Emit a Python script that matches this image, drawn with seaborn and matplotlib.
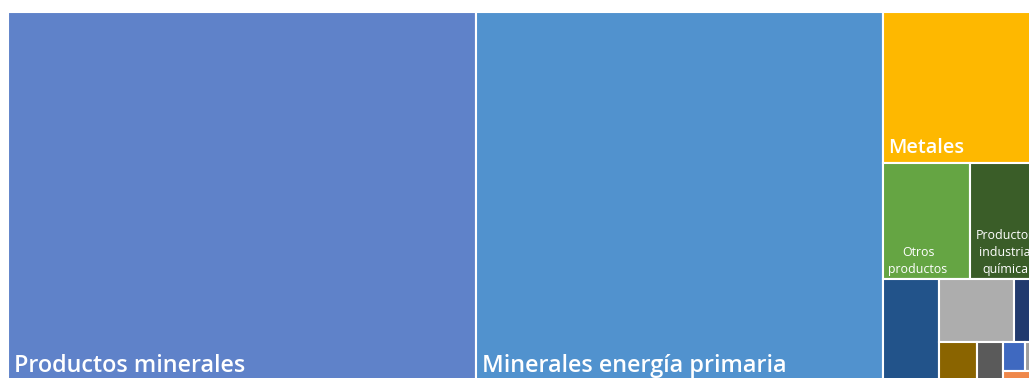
import matplotlib
matplotlib.use("Agg")
import matplotlib.pyplot as plt
import seaborn as sns

# Export groups and their values (same units for every block)
categorias = [
    "Productos minerales",
    "Minerales energía primaria",
    "Metales",
    "Otros productos",
    "Productos industria química",
    "Productos agropecuarios",
    "Alimentos",
    "Productos forestales",
    "Industria básica",
    "Celulosa y papel",
    "Maquinaria",
    "Plásticos",
    "Textiles",
]
valores = [1755, 1526, 266, 101, 103, 60.5, 47.3, 28.3, 17.1, 11.7, 6.4, 9.9, 9.0]

colores = [
    "#5F82C9", "#5192CE", "#FEB800", "#65A543", "#3A5D28",
    "#22538A", "#ADADAD", "#213A6E", "#8A6400", "#5A5A5A",
    "#3F69C0", "#9E9E9E", "#EF884B",
]

# Nesting of the blocks: nested lists alternate between side-by-side and stacked
estructura = [0, 1, [2, [3, 4], [5, [[6, 7], [8, 9, [[10, 11], 12]]]]]]

# Label text, size (pt) and weight for the blocks that carry a name
etiquetas = {
    0: ("Productos minerales", 16.8, "semibold"),
    1: ("Minerales energía primaria", 16.8, "semibold"),
    2: ("Metales", 14.3, "semibold"),
    3: ("Otros\nproductos", 8.9, "medium"),
    4: ("Productos\nindustria\nquímica", 8.9, "medium"),
}

sns.set_theme(style="white")
plt.rcParams["font.family"] = ["Open Sans", "DejaVu Sans"]

W_PX, H_PX = 1029, 378
fig = plt.figure(figsize=(W_PX / 100, H_PX / 100), dpi=100)
ax = fig.add_axes([0, 0, 1, 1])
ax.set_xlim(0, W_PX)
ax.set_ylim(H_PX, 0)
ax.set_axis_off()

# Treemap area in axis units
X0, Y0, ANCHO, ALTO = 8, 12, 1051, 375


def suma(nodo):
    if isinstance(nodo, int):
        return valores[nodo]
    return sum(suma(n) for n in nodo)


rects = {}


def dividir(nodo, x, y, w, h, horizontal):
    if isinstance(nodo, int):
        rects[nodo] = (x, y, w, h)
        return
    total = suma(nodo)
    for hijo in nodo:
        f = suma(hijo) / total
        if horizontal:
            dividir(hijo, x, y, w * f, h, not horizontal)
            x += w * f
        else:
            dividir(hijo, x, y, w, h * f, not horizontal)
            y += h * f


dividir(estructura, X0, Y0, ANCHO, ALTO, True)

orden = sorted(rects)
ax.bar(
    [rects[i][0] for i in orden],
    [rects[i][3] for i in orden],
    width=[rects[i][2] for i in orden],
    bottom=[rects[i][1] for i in orden],
    align="edge",
    color=[colores[i] for i in orden],
    edgecolor="white",
    linewidth=1.5,
)

for i, (texto, tam, peso) in etiquetas.items():
    x, y, w, h = rects[i]
    px = tam * 100 / 72
    y_txt = min(y + h - 0.28 * px, H_PX - 0.5)
    ax.text(
        x + 5.5, y_txt, texto,
        color="white", fontsize=tam, fontweight=peso,
        ha="left", va="bottom",
        multialignment="center", linespacing=1.38,
    )

fig.savefig("out.png", dpi=100)
